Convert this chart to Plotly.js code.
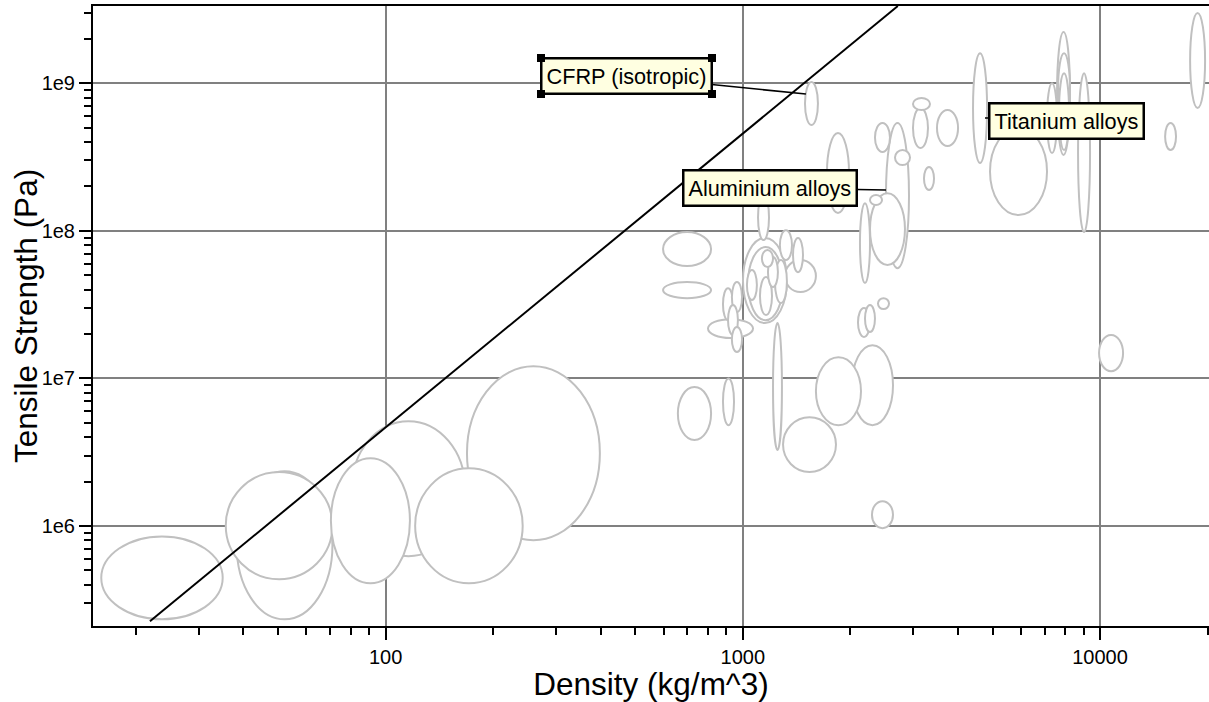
<!DOCTYPE html>
<html>
<head>
<meta charset="utf-8">
<script src="https://cdn.plot.ly/plotly-3.0.1.min.js"></script>
<style>
html,body{margin:0;padding:0;background:#fff;overflow:hidden;}
#chart{width:1209px;height:702px;position:relative;}
.handle{position:absolute;width:8px;height:8px;background:#000;}
</style>
</head>
<body>
<div id="chart"></div>
<script>
// ---- data: material property ranges (density kg/m^3, tensile strength Pa) ----
const densityMin  = [16, 35.7, 38.3, 70.3, 80.4, 121, 169, 598, 598, 799, 880, 932, 909, 932, 1001, 1034, 1027, 1131, 1117, 1176, 1230, 1270, 1382, 1312, 1103, 1215, 658, 880, 1296, 1602, 2020, 2299, 9937, 2101, 2198, 2390, 2128, 2270, 2516, 2344, 2667, 2995, 2995, 3496, 3215, 1720, 2270, 1493, 4410, 4920, 7105, 7579, 7628, 7677, 8678, 17870, 15210];
const densityMax  = [35, 71, 71, 117, 167, 242, 398, 815, 815, 1068, 939, 995, 969, 995, 1329, 1296, 1095, 1215, 1207, 1254, 1329, 1373, 1474, 1602, 1184, 1287, 815, 945, 1823, 2142, 2633, 2633, 11600, 2270, 2344, 2566, 2270, 2844, 2919, 2582, 2938, 3342, 3299, 4004, 3430, 1983, 2453, 1623, 4828, 7105, 7579, 8241, 8241, 8189, 9376, 19680, 16320];
const strengthMin = [2.33e5, 4.36e5, 2.33e5, 4.09e5, 6.24e5, 4.09e5, 8.0e5, 5.77e7, 3.5e7, 1.88e7, 2.48e7, 2.81e7, 1.97e7, 1.51e7, 2.37e7, 2.48e7, 3.40e7, 5.68e7, 2.69e7, 4.16e7, 3.24e7, 6.34e7, 5.25e7, 3.85e7, 8.66e7, 3.27e6, 3.82e6, 4.82e6, 2.32e6, 4.82e6, 4.82e6, 9.66e5, 1.12e7, 1.91e7, 2.06e7, 2.95e7, 4.43e7, 5.87e7, 5.59e7, 3.42e8, 2.79e8, 6.59e8, 3.64e8, 3.76e8, 1.89e8, 1.32e8, 1.50e8, 5.22e8, 2.88e8, 1.28e8, 3.37e8, 3.27e8, 5.06e8, 3.53e8, 9.81e7, 6.80e8, 3.53e8];
const strengthMax = [8.5e5, 2.32e6, 2.35e6, 2.88e6, 5.13e6, 2.46e6, 1.21e7, 9.81e7, 4.5e7, 2.52e7, 4.09e7, 4.5e7, 3.14e7, 2.23e7, 8.94e7, 7.77e7, 5.42e7, 7.41e7, 4.86e7, 6.64e7, 6.34e7, 1.01e8, 8.94e7, 6.34e7, 1.75e8, 2.37e7, 8.73e6, 1.0e7, 5.46e6, 1.39e7, 1.68e7, 1.47e6, 1.97e7, 3.0e7, 3.14e7, 3.5e7, 1.54e8, 1.80e8, 5.38e8, 5.38e8, 3.53e8, 7.95e8, 6.80e8, 6.59e8, 2.71e8, 4.60e8, 1.75e8, 1.02e9, 1.60e9, 4.98e8, 1.0e9, 2.23e9, 1.60e9, 1.17e9, 1.17e9, 3.0e9, 5.38e8];

// guide line (strength proportional to density^2)
const guideDensity  = [21.9, 2716];
const guideStrength = [2.26e5, 3.34e9];

// labelled materials
const labelText     = ['CFRP (isotropic)', 'Aluminium alloys', 'Titanium alloys'];
const labelDensity  = [1502, 2516, 4764];
const labelStrength = [8.46e8, 1.89e8, 5.82e8];

// axis ticks and titles
const xTickVals = [100, 1000, 10000];
const xTickText = ['100', '1000', '10000'];
const yTickVals = [1e6, 1e7, 1e8, 1e9];
const yTickText = ['1e6', '1e7', '1e8', '1e9'];
const xTitle = 'Density (kg/m^3)';
const yTitle = 'Tensile Strength (Pa)';

// ---- build ----
function minorTicks(lo, hi) {
  const out = [];
  for (let e = lo; e <= hi; e++) for (let m = 2; m <= 9; m++) out.push(m * Math.pow(10, e));
  return out;
}

const order = densityMin.map((_, i) => i).sort((a, b) => {
  const A = (Math.log10(densityMax[a]) - Math.log10(densityMin[a])) * (Math.log10(strengthMax[a]) - Math.log10(strengthMin[a]));
  const B = (Math.log10(densityMax[b]) - Math.log10(densityMin[b])) * (Math.log10(strengthMax[b]) - Math.log10(strengthMin[b]));
  return B - A;
});

const shapes = order.map(i => ({
  type: 'circle', xref: 'x', yref: 'y',
  x0: densityMin[i], x1: densityMax[i], y0: strengthMin[i], y1: strengthMax[i],
  line: {color: '#c0c0c0', width: 2}, fillcolor: '#ffffff', layer: 'between'
}));

const FONT = 'Liberation Sans, Arial, sans-serif';
const offsets = [[-179.5, -18], [-115.5, -2], [81, 2.5]];
const annotations = labelText.map((t, i) => ({
  text: t, x: Math.log10(labelDensity[i]), y: Math.log10(labelStrength[i]),
  xref: 'x', yref: 'y', showarrow: true, arrowhead: 0, arrowwidth: 1.5, arrowcolor: '#000',
  ax: offsets[i][0], ay: offsets[i][1], standoff: 0,
  bgcolor: '#ffffe1', bordercolor: '#000', borderwidth: 2.5, borderpad: 4,
  font: {family: FONT, size: 21.7, color: '#000'}
}));
// y-axis title placed as rotated text left of the tick labels
annotations.push({
  text: yTitle, xref: 'paper', yref: 'paper', x: 0, y: 0.5,
  xanchor: 'center', yanchor: 'middle', xshift: -67, textangle: -90,
  showarrow: false, font: {family: FONT, size: 31.5, color: '#000'}
});

const axisFont = {family: FONT, size: 20, color: '#000'};

const traces = [{
  x: guideDensity, y: guideStrength, type: 'scatter', mode: 'lines',
  line: {color: '#000', width: 2}, hoverinfo: 'skip', showlegend: false
}];

const layout = {
  width: 1209, height: 702,
  margin: {l: 93, r: 0, t: 6, b: 76},
  paper_bgcolor: '#fff', plot_bgcolor: '#fff',
  showlegend: false,
  font: axisFont,
  xaxis: {
    type: 'log', range: [1.181, 4.305],
    tickmode: 'array', tickvals: xTickVals, ticktext: xTickText,
    ticks: 'outside', ticklen: 12, tickwidth: 2, tickcolor: '#000',
    tickfont: axisFont,
    showgrid: true, gridcolor: '#808080', gridwidth: 2,
    showline: true, linecolor: '#000', linewidth: 2, mirror: true,
    minor: {tickmode: 'array', tickvals: minorTicks(1, 4), ticks: 'outside', ticklen: 7, tickwidth: 2, tickcolor: '#000', showgrid: false},
    title: {text: xTitle, font: {family: FONT, size: 31.5, color: '#000'}, standoff: 6},
    automargin: false, zeroline: false
  },
  yaxis: {
    type: 'log', range: [5.322, 9.524],
    tickmode: 'array', tickvals: yTickVals, ticktext: yTickText,
    ticks: 'outside', ticklen: 12, tickwidth: 2, tickcolor: '#000',
    tickfont: axisFont,
    showgrid: true, gridcolor: '#808080', gridwidth: 2,
    showline: true, linecolor: '#000', linewidth: 2, mirror: false,
    minor: {tickmode: 'array', tickvals: minorTicks(5, 9), ticks: 'outside', ticklen: 7, tickwidth: 2, tickcolor: '#000', showgrid: false},
    automargin: false, zeroline: false
  },
  shapes: shapes,
  annotations: annotations
};

Plotly.newPlot('chart', traces, layout, {displayModeBar: false, staticPlot: true}).then(() => {
  // selection handles around the first (selected) label box
  const ann = document.querySelectorAll('.annotation')[0];
  if (!ann) return;
  const bg = ann.querySelector('rect.bg');
  if (!bg) return;
  const r = bg.getBoundingClientRect();
  const host = document.getElementById('chart');
  [[r.left, r.top], [r.right, r.top], [r.left, r.bottom], [r.right, r.bottom]].forEach(([cx, cy]) => {
    const d = document.createElement('div');
    d.className = 'handle';
    d.style.left = (cx - 4) + 'px';
    d.style.top = (cy - 4) + 'px';
    host.appendChild(d);
  });
});
</script>
</body>
</html>
